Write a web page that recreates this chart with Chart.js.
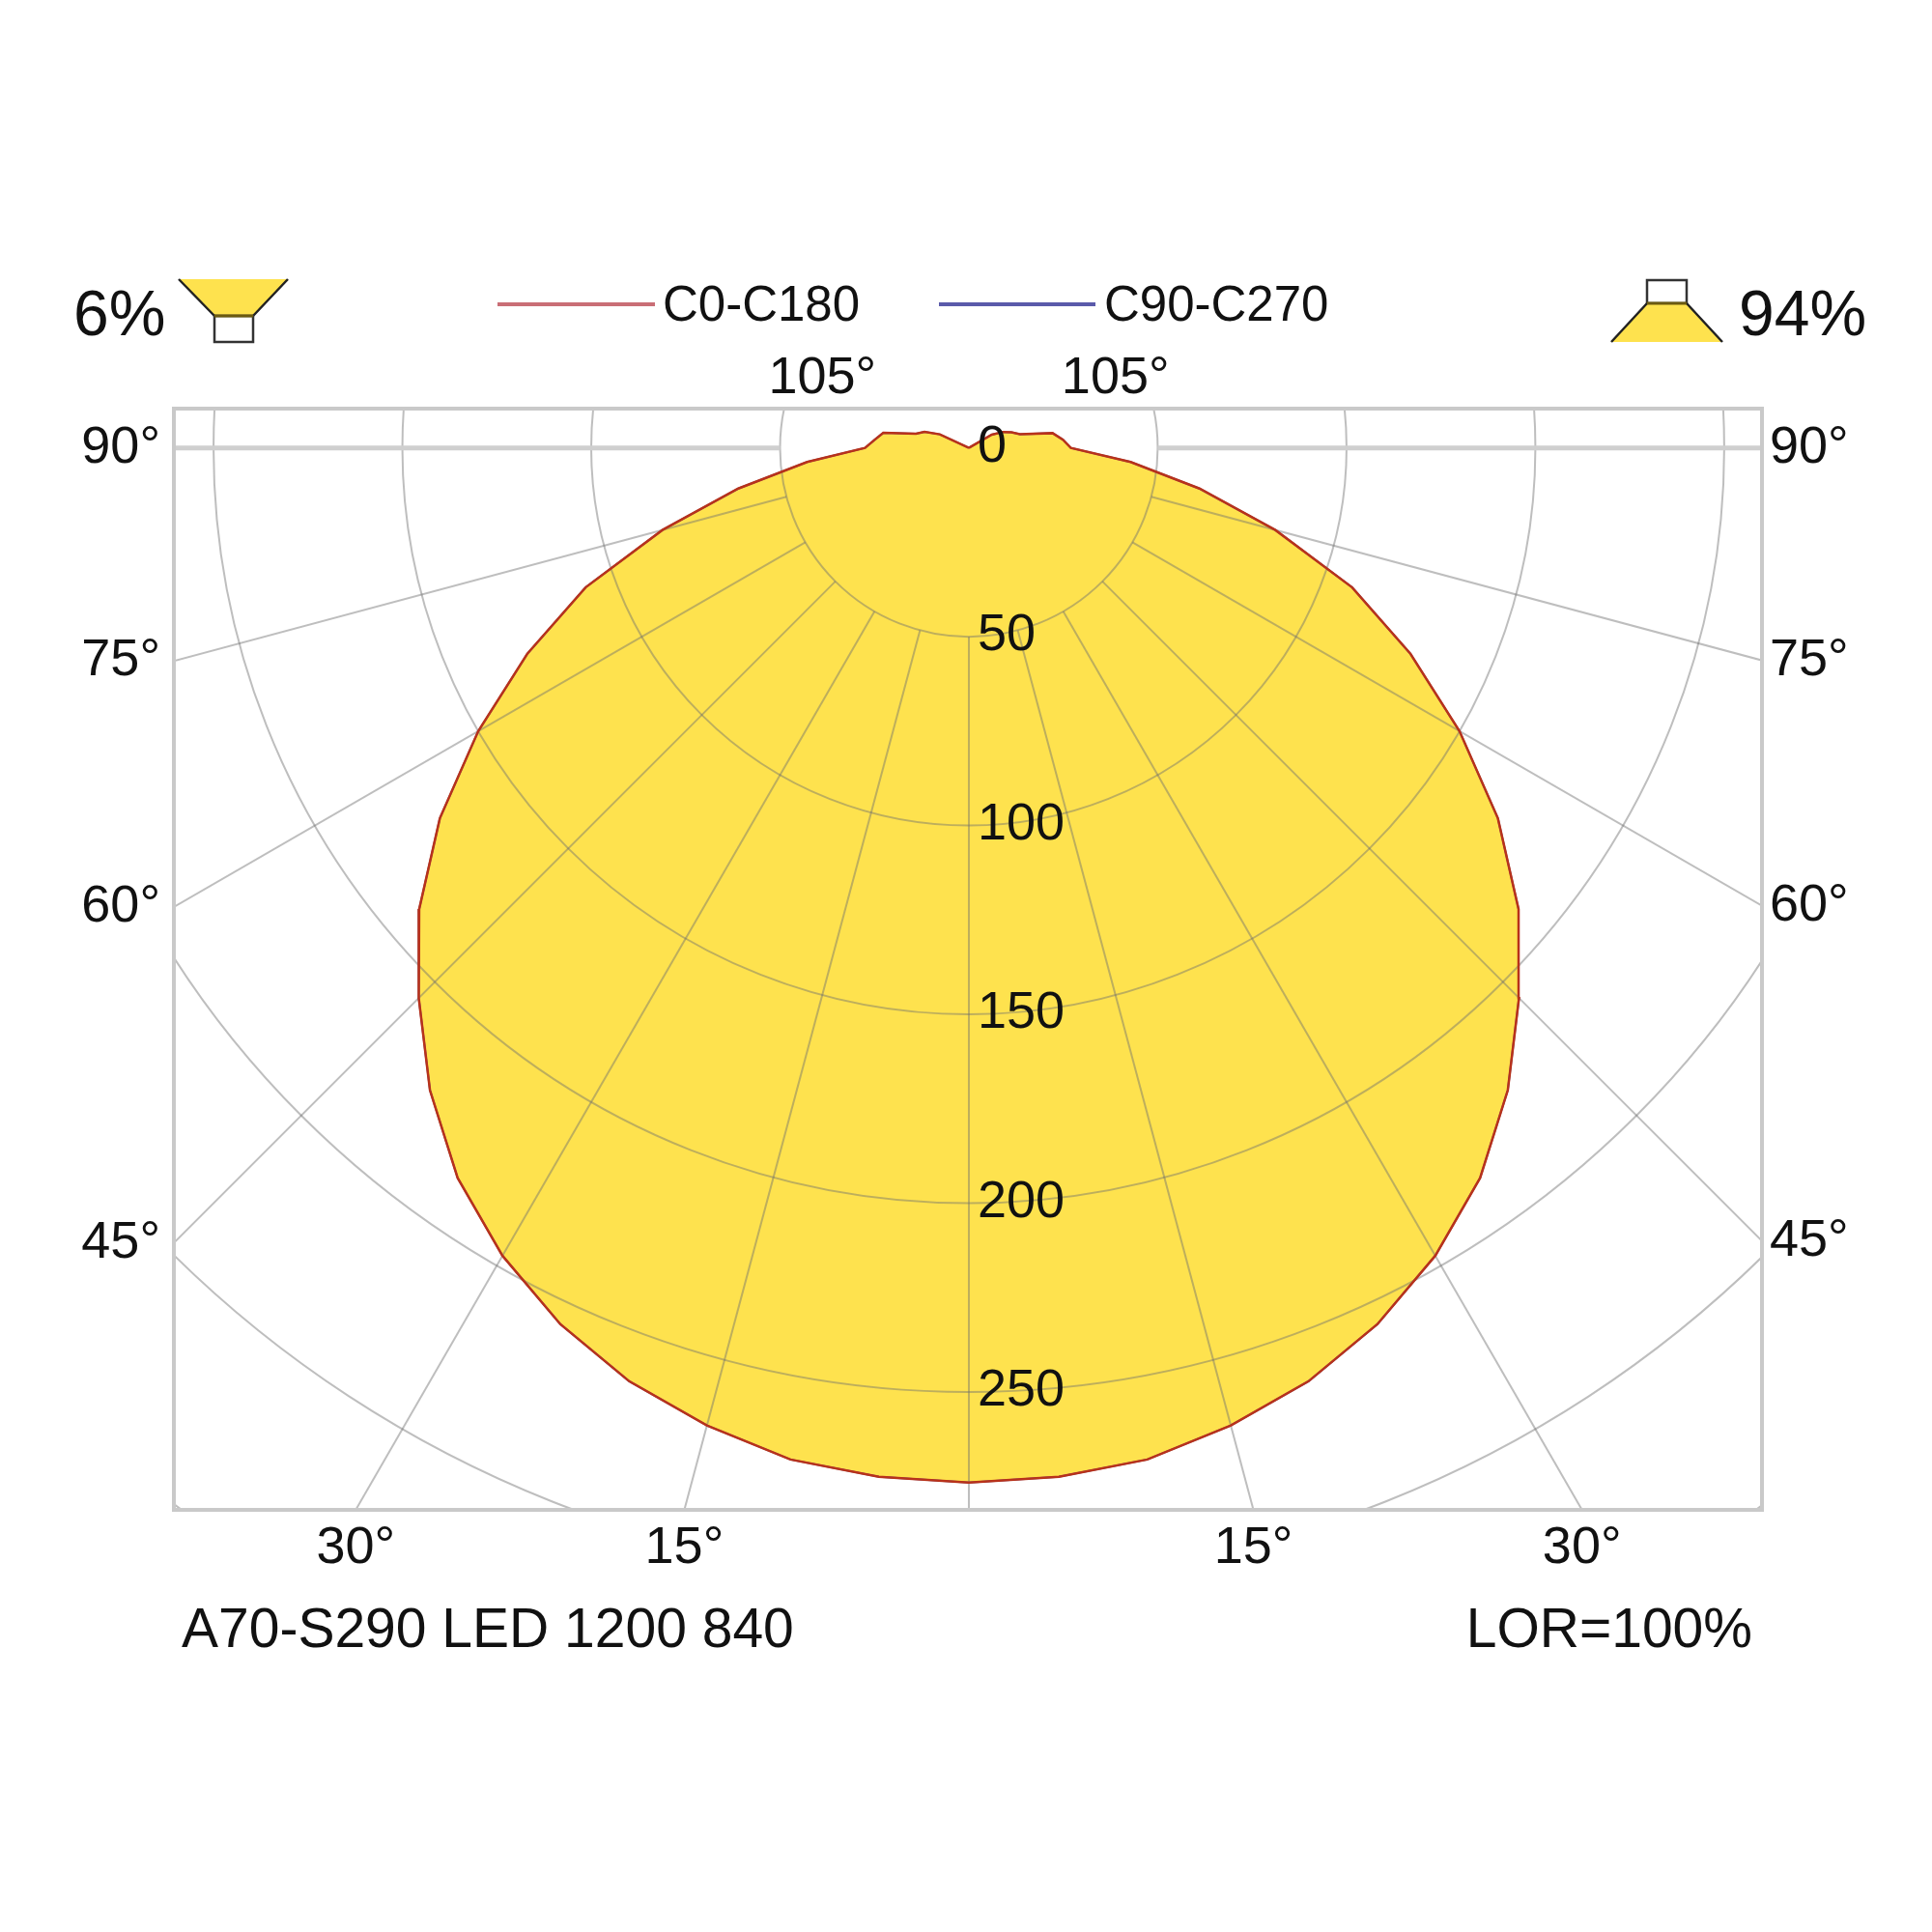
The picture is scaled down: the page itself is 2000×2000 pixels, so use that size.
<!DOCTYPE html>
<html>
<head>
<meta charset="utf-8">
<title>A70-S290 LED 1200 840</title>
<script src="https://cdn.jsdelivr.net/npm/chart.js@4.4.1/dist/chart.umd.min.js"></script>
<style>
    html, body { margin: 0; padding: 0; background: #ffffff; }
    #ldc-container { width: 2000px; height: 2000px; }
</style>
</head>
<body>
<div id="ldc-container"><canvas id="ldc" width="2000" height="2000"></canvas></div>
<script>
// gamma angles (degrees from nadir) and intensities in cd/klm
const GAMMA = [0, 5, 10, 15, 20, 25, 30, 35, 40, 45, 50, 55, 60, 65, 70, 75, 80, 85, 90,
    95, 100, 105, 110, 115, 120, 125, 130, 135, 140, 145, 150, 155, 160, 165, 170, 175, 180];
const C0 = [274, 273.5, 272, 268, 263, 256, 247, 236, 222, 206, 190, 171, 150, 129, 108, 84, 62, 43, 27,
    25, 22.5, 14, 12, 10, 7, 0, 0, 0, 0, 0, 0, 0, 0, 0, 0, 0, 0];
const C180 = [274, 273.5, 272, 268, 263, 256, 247, 236, 222, 206, 190, 171, 150, 129, 108, 84, 62, 43, 27.5,
    25, 23, 14.5, 12.5, 8.5, 0, 0, 0, 0, 0, 0, 0, 0, 0, 0, 0, 0, 0];
const C90 = [274, 273.5, 272, 268, 263, 256, 247, 236, 222, 206, 190, 171, 150, 129, 108, 84, 62, 43, 27,
    25, 22.5, 14, 12, 10, 7, 0, 0, 0, 0, 0, 0, 0, 0, 0, 0, 0, 0];
const C270 = [274, 273.5, 272, 268, 263, 256, 247, 236, 222, 206, 190, 171, 150, 129, 108, 84, 62, 43, 27.5,
    25, 23, 14.5, 12.5, 8.5, 0, 0, 0, 0, 0, 0, 0, 0, 0, 0, 0, 0, 0];

const RINGS = [50, 100, 150, 200, 250, 300, 350];
const RING_LABELS = [0, 50, 100, 150, 200, 250];
const SPOKES = [0, 15, 30, 45, 60, 75, 90, 105];
const ANGLE_LABELS = [15, 30, 45, 60, 75, 90, 105];

const LEGEND_LABELS = ["C0-C180", "C90-C270"];
const UPWARD_SHARE = "6%";
const DOWNWARD_SHARE = "94%";
const LUMINAIRE = "A70-S290 LED 1200 840";
const LOR_TEXT = "LOR=100%";

const FONT = '"Liberation Sans", Arial, sans-serif';
const YELLOW = "#fee24e";
const RED_LINE = "#b8321a";
const BLUE_LINE = "#5a5aaa";
const GRID = "rgba(110, 110, 110, 0.45)";
const FRAME = "#c9c9c9";

function polar(gamma, value, side) {
    const rad = gamma * Math.PI / 180;
    return {x: side * value * Math.sin(rad), y: -value * Math.cos(rad)};
}

// one closed curve: left half from 180 down to 0, right half back to 180
function planePoints(left, right) {
    const pts = [];
    for (let i = GAMMA.length - 1; i >= 0; i--) {
        pts.push(polar(GAMMA[i], left[i], -1));
    }
    for (let i = 0; i < GAMMA.length; i++) {
        pts.push(polar(GAMMA[i], right[i], 1));
    }
    return pts;
}

function centre(chart) {
    const xs = chart.scales.x;
    const ys = chart.scales.y;
    const cx = xs.getPixelForValue(0);
    const cy = ys.getPixelForValue(0);
    const unit = xs.getPixelForValue(1) - cx;
    return {cx, cy, unit};
}

const gridPlugin = {
    id: "polarGrid",
    beforeDatasetsDraw(chart) {
        const {ctx, chartArea: area} = chart;
        const {cx, cy, unit} = centre(chart);
        const r0 = RINGS[0] * unit;

        ctx.save();
        ctx.beginPath();
        ctx.rect(area.left, area.top, area.right - area.left, area.bottom - area.top);
        ctx.clip();

        ctx.strokeStyle = GRID;
        ctx.lineWidth = 2;
        RINGS.forEach(ring => {
            ctx.beginPath();
            ctx.arc(cx, cy, ring * unit, 0, Math.PI * 2);
            ctx.stroke();
        });

        SPOKES.forEach(angle => {
            const rad = angle * Math.PI / 180;
            const sides = angle === 0 ? [1] : [-1, 1];
            sides.forEach(side => {
                const dx = side * Math.sin(rad);
                const dy = Math.cos(rad);
                ctx.beginPath();
                ctx.moveTo(cx + dx * r0, cy + dy * r0);
                ctx.lineTo(cx + dx * 3000, cy + dy * 3000);
                if (angle === 90) {
                    ctx.save();
                    ctx.strokeStyle = "#cfcfcf";
                    ctx.lineWidth = 5;
                    ctx.stroke();
                    ctx.restore();
                } else {
                    ctx.stroke();
                }
            });
        });
        ctx.restore();

        ctx.save();
        ctx.strokeStyle = FRAME;
        ctx.lineWidth = 4;
        ctx.strokeRect(area.left, area.top, area.right - area.left, area.bottom - area.top);
        ctx.restore();
    }
};

function drawUpIcon(ctx) {
    ctx.fillStyle = YELLOW;
    ctx.beginPath();
    ctx.moveTo(185, 289);
    ctx.lineTo(298, 289);
    ctx.lineTo(262, 327);
    ctx.lineTo(222, 327);
    ctx.closePath();
    ctx.fill();
    ctx.strokeStyle = "#222";
    ctx.lineWidth = 2.5;
    ctx.beginPath();
    ctx.moveTo(185, 289);
    ctx.lineTo(222, 327);
    ctx.moveTo(298, 289);
    ctx.lineTo(262, 327);
    ctx.stroke();
    ctx.fillStyle = "#fff";
    ctx.fillRect(222, 327, 40, 27);
    ctx.strokeStyle = "#333";
    ctx.strokeRect(222, 327, 40, 27);
    ctx.strokeStyle = "#6b5a10";
    ctx.lineWidth = 3;
    ctx.beginPath();
    ctx.moveTo(222, 327);
    ctx.lineTo(262, 327);
    ctx.stroke();
}

function drawDownIcon(ctx) {
    ctx.fillStyle = "#fff";
    ctx.fillRect(1705, 290, 41, 24);
    ctx.strokeStyle = "#333";
    ctx.lineWidth = 2.5;
    ctx.strokeRect(1705, 290, 41, 24);
    ctx.fillStyle = YELLOW;
    ctx.beginPath();
    ctx.moveTo(1705, 314);
    ctx.lineTo(1746, 314);
    ctx.lineTo(1783, 354);
    ctx.lineTo(1668, 354);
    ctx.closePath();
    ctx.fill();
    ctx.strokeStyle = "#222";
    ctx.beginPath();
    ctx.moveTo(1705, 314);
    ctx.lineTo(1668, 354);
    ctx.moveTo(1746, 314);
    ctx.lineTo(1783, 354);
    ctx.stroke();
    ctx.strokeStyle = "#6b5a10";
    ctx.lineWidth = 3;
    ctx.beginPath();
    ctx.moveTo(1705, 314);
    ctx.lineTo(1746, 314);
    ctx.stroke();
}

const labelPlugin = {
    id: "polarLabels",
    afterDatasetsDraw(chart) {
        const {ctx, chartArea: area} = chart;
        const {cx, cy, unit} = centre(chart);
        ctx.save();
        ctx.fillStyle = "#111";

        // intensity values down the nadir line
        ctx.font = "54px " + FONT;
        ctx.textAlign = "left";
        ctx.textBaseline = "alphabetic";
        RING_LABELS.forEach(v => {
            ctx.fillText(String(v), cx + 9, cy + v * unit + 14);
        });

        // angle labels where the spokes leave the frame
        ctx.font = "54px " + FONT;
        ANGLE_LABELS.forEach(angle => {
            const rad = angle * Math.PI / 180;
            [-1, 1].forEach(side => {
                const dx = side * Math.sin(rad);
                const dy = Math.cos(rad);
                const tSide = side < 0 ? (cx - area.left) / -dx : (area.right - cx) / dx;
                const tVert = dy > 0 ? (area.bottom - cy) / dy : (area.top - cy) / dy;
                const text = angle + "°";
                if (tSide <= tVert) {
                    const y = cy + dy * tSide + 15;
                    ctx.textAlign = side < 0 ? "right" : "left";
                    ctx.fillText(text, side < 0 ? area.left - 14 : area.right + 8, y);
                } else {
                    const x = cx + dx * tVert;
                    ctx.textAlign = "center";
                    ctx.fillText(text, x, dy > 0 ? area.bottom + 55 : area.top - 16);
                }
            });
        });

        // legend
        ctx.lineWidth = 4;
        ctx.strokeStyle = "#c96e76";
        ctx.beginPath();
        ctx.moveTo(515, 315);
        ctx.lineTo(678, 315);
        ctx.stroke();
        ctx.strokeStyle = BLUE_LINE;
        ctx.beginPath();
        ctx.moveTo(972, 315);
        ctx.lineTo(1134, 315);
        ctx.stroke();
        ctx.font = "51px " + FONT;
        ctx.textAlign = "left";
        ctx.fillText(LEGEND_LABELS[0], 686, 332);
        ctx.fillText(LEGEND_LABELS[1], 1143, 332);

        // upward / downward shares
        ctx.font = "66px " + FONT;
        ctx.fillText(UPWARD_SHARE, 76, 347);
        ctx.fillText(DOWNWARD_SHARE, 1800, 347);
        drawUpIcon(ctx);
        drawDownIcon(ctx);

        // footer
        ctx.fillStyle = "#111";
        ctx.font = "57px " + FONT;
        ctx.textAlign = "left";
        ctx.fillText(LUMINAIRE, 188, 1705);
        ctx.textAlign = "right";
        ctx.fillText(LOR_TEXT, 1814, 1705);
        ctx.restore();
    }
};

const ctx = document.querySelector("#ldc").getContext("2d");
const configuration = {
    type: "scatter",
    data: {
        datasets: [{
            label: LEGEND_LABELS[0],
            data: planePoints(C180, C0),
            showLine: true,
            borderColor: RED_LINE,
            borderWidth: 2.5,
            backgroundColor: YELLOW,
            fill: "shape",
            pointRadius: 0,
            tension: 0
        }, {
            label: LEGEND_LABELS[1],
            data: planePoints(C270, C90),
            showLine: true,
            borderColor: BLUE_LINE,
            borderWidth: 2,
            fill: false,
            pointRadius: 0,
            tension: 0
        }]
    },
    options: {
        responsive: false,
        devicePixelRatio: 1,
        animation: false,
        layout: {
            padding: {left: 180, right: 176, top: 423, bottom: 437}
        },
        scales: {
            x: {type: "linear", min: -210.5, max: 210, display: false},
            y: {type: "linear", min: -281.2, max: 10.4, display: false}
        },
        plugins: {
            legend: {display: false},
            tooltip: {enabled: false},
            filler: {drawTime: "beforeDatasetsDraw"}
        }
    },
    plugins: [gridPlugin, labelPlugin]
};
new Chart(ctx, configuration);
</script>
</body>
</html>
